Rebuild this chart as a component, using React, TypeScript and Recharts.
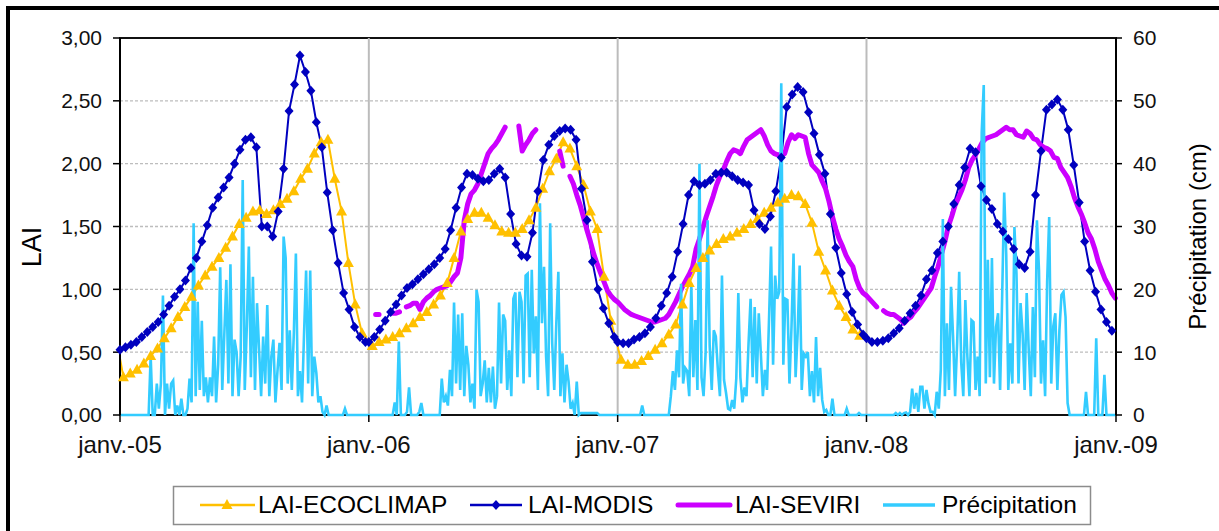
import React from 'react';
import { ComposedChart, Line, XAxis, YAxis, CartesianGrid } from 'recharts';

// ---------- axes ----------
const yearTickDays = [0, 365, 730, 1095, 1461];
const yearTickLabels = ['janv.-05', 'janv.-06', 'janv.-07', 'janv.-08', 'janv.-09'];
const yearStartDays = [0, 365, 730, 1095];
const laiTicks = [0, 0.5, 1, 1.5, 2, 2.5, 3];
const precipTicks = [0, 10, 20, 30, 40, 50, 60];
const laiGridValues = [0.5, 1, 1.5, 2, 2.5];
const yearGridDays = [365, 730, 1095];

// ---------- LAI-MODIS (8-day composites, 46 per year) ----------
const modis2005 = [0.52, 0.54, 0.56, 0.58, 0.62, 0.66, 0.70, 0.74, 0.80, 0.87, 0.94, 1.00, 1.07, 1.17, 1.25, 1.38, 1.51, 1.65, 1.73, 1.81, 1.89, 2.00, 2.11, 2.19, 2.21, 2.13, 1.50, 1.50, 1.42, 1.62, 1.96, 2.42, 2.63, 2.86, 2.73, 2.58, 2.33, 2.13, 1.77, 1.47, 1.21, 0.97, 0.84, 0.70, 0.62, 0.58];
const modis2006 = [0.58, 0.62, 0.68, 0.75, 0.82, 0.88, 0.95, 1.01, 1.04, 1.08, 1.12, 1.16, 1.20, 1.25, 1.32, 1.47, 1.65, 1.81, 1.92, 1.91, 1.88, 1.86, 1.87, 1.92, 1.96, 1.89, 1.60, 1.36, 1.27, 1.26, 1.45, 1.78, 2.03, 2.15, 2.22, 2.26, 2.28, 2.27, 2.19, 1.80, 1.55, 1.22, 1.00, 0.85, 0.73, 0.62];
const modis2007 = [0.58, 0.57, 0.57, 0.60, 0.62, 0.65, 0.70, 0.77, 0.87, 0.97, 1.10, 1.30, 1.52, 1.75, 1.86, 1.83, 1.84, 1.87, 1.92, 1.93, 1.93, 1.90, 1.87, 1.85, 1.83, 1.63, 1.52, 1.48, 1.58, 1.78, 2.05, 2.45, 2.55, 2.61, 2.57, 2.41, 2.24, 2.07, 1.92, 1.60, 1.33, 1.13, 0.96, 0.82, 0.72, 0.64];
const modis2008 = [0.61, 0.58, 0.58, 0.59, 0.61, 0.65, 0.69, 0.75, 0.81, 0.87, 0.95, 1.08, 1.15, 1.29, 1.38, 1.50, 1.68, 1.83, 1.97, 2.12, 2.09, 1.82, 1.71, 1.64, 1.52, 1.46, 1.40, 1.32, 1.20, 1.17, 1.30, 1.75, 2.10, 2.43, 2.47, 2.51, 2.43, 2.27, 1.99, 1.69, 1.38, 1.15, 0.98, 0.84, 0.74, 0.67];

// ---------- LAI-ECOCLIMAP (10-day, 36 per year) ----------
const ecoStartValue = 0.45;
const eco2005 = [0.30, 0.33, 0.36, 0.41, 0.47, 0.53, 0.61, 0.69, 0.78, 0.86, 0.94, 1.03, 1.11, 1.18, 1.25, 1.33, 1.42, 1.52, 1.57, 1.62, 1.63, 1.60, 1.63, 1.68, 1.72, 1.78, 1.88, 1.96, 2.08, 2.17, 2.19, 1.88, 1.62, 1.21, 0.88, 0.65];
const eco2006 = [0.55, 0.58, 0.60, 0.62, 0.65, 0.69, 0.73, 0.78, 0.82, 0.88, 0.95, 1.05, 1.25, 1.46, 1.56, 1.61, 1.61, 1.57, 1.51, 1.46, 1.45, 1.45, 1.48, 1.55, 1.65, 1.80, 1.94, 2.04, 2.17, 2.12, 1.98, 1.83, 1.62, 1.48, 1.10, 0.75];
const eco2007 = [0.44, 0.40, 0.40, 0.43, 0.47, 0.52, 0.57, 0.64, 0.72, 0.88, 1.05, 1.17, 1.25, 1.31, 1.36, 1.40, 1.42, 1.45, 1.48, 1.52, 1.56, 1.61, 1.65, 1.69, 1.72, 1.75, 1.74, 1.68, 1.53, 1.30, 1.15, 0.99, 0.87, 0.78, 0.68, 0.63];

// ---------- LAI-SEVIRI (5-day steps from 1 Jan 2006, null = no data) ----------
const seviriStartDay = 365;
const seviri2006 = [null, null, 0.80, 0.80, null, null, null, 0.81, 0.81, 0.82, null, 0.86, 0.87, 0.89, 0.89, 0.84, 0.90, 0.93, 0.95, 0.98, 1.00, 1.01, 1.02, 1.03, 1.06, 1.10, 1.13, 1.25, 1.55, 1.68, 1.76, 1.79, 1.84, 1.92, 2.00, 2.08, 2.12, 2.15, 2.19, 2.24, 2.29, null, null, null, 2.30, 2.10, 2.15, 2.19, 2.24, 2.27, null, null, null, null, null, null, 2.10, 1.98, null, 1.90, 1.84, 1.75, 1.67, 1.57, 1.47, 1.38, 1.28, 1.20, 1.13, 1.06, 0.99, 0.95, 0.92];
const seviri2007 = [0.90, 0.87, 0.84, 0.82, 0.80, 0.79, 0.78, 0.77, 0.76, 0.75, 0.74, 0.74, 0.75, 0.76, 0.77, 0.80, 0.85, 0.90, 0.96, 1.02, 1.07, 1.12, 1.18, 1.32, 1.40, 1.49, 1.58, 1.66, 1.74, 1.83, 1.90, 1.95, 2.02, 2.08, 2.11, 2.10, 2.08, 2.14, 2.19, 2.21, 2.23, 2.25, 2.27, 2.22, 2.15, 2.10, 2.08, 2.07, 2.07, 2.08, 2.17, 2.23, 2.20, 2.23, 2.22, 2.21, 2.08, 1.99, 1.96, 1.93, 1.86, 1.80, 1.70, 1.58, 1.48, 1.40, 1.34, 1.27, 1.22, 1.18, 1.08, 1.01, 0.97];
const seviri2008 = [0.95, 0.92, 0.89, 0.86, null, 0.83, 0.81, 0.80, 0.80, 0.78, 0.76, 0.73, 0.76, 0.78, 0.82, 0.85, 0.89, 0.93, 0.97, 1.01, 1.10, 1.18, 1.28, 1.38, 1.50, 1.58, 1.67, 1.73, 1.79, 1.87, 1.97, 2.03, 2.07, 2.12, 2.17, 2.20, 2.21, 2.22, 2.23, 2.25, 2.27, 2.29, 2.27, 2.27, 2.23, 2.22, 2.21, 2.26, 2.24, 2.20, 2.19, 2.15, 2.13, 2.12, 2.10, 2.05, 2.04, 1.97, 1.93, 1.89, 1.82, 1.73, 1.66, 1.60, 1.53, 1.45, 1.40, 1.32, 1.22, 1.15, 1.08, 1.03, 0.97, 0.93];

// ---------- Précipitation (cm), 3-day steps inside each rainy season, 0 elsewhere ----------
const precip2005Start = 42;
const precip2005 = [0, 9.3, 0, 0, 5, 1, 5, 19, 0, 5, 1, 5, 5.5, 0, 1.5, 0, 2.6, 0, 0, 1, 5.8, 2, 30.5, 3, 18, 4, 15, 3, 6, 2, 6, 3, 12.5, 2, 8, 23.5, 4, 12.8, 21.5, 5, 24, 3, 12, 10, 3, 9.3, 37.4, 4, 14, 26.8, 6, 22, 4, 17.8, 10.5, 3, 12.5, 5, 17.5, 3, 9.3, 12, 2, 7, 11.5, 4, 28.4, 25, 5, 13.5, 4, 13, 25.7, 3, 7, 2, 13, 23, 5, 23, 3, 9.3, 6.7, 2, 3, 0.5, 0, 1.5, 0, 0, 0, 0, 0, 0, 0, 0, 1, 0];
const precip2006Start = 400;
const precip2006 = [0, 2, 0, 11.7, 0, 0, 0, 0.5, 4.4, 0, 0, 0, 0, 0.5, 1.9, 0, 0, 0, 0, 0, 0, 0, 0, 0, 5.8, 2, 3, 1.5, 7.2, 3, 17.9, 5, 16, 4, 16.2, 3, 11, 8, 2, 5, 1, 19.9, 18, 3, 5, 8.7, 2, 7.5, 2, 7.7, 1, 3, 17.9, 5, 16, 15, 4, 10.3, 3, 18.5, 19.5, 6, 19.6, 18, 5, 22.2, 22.5, 6, 23.1, 9.8, 15.7, 4, 33.7, 14.6, 23.6, 9.3, 3, 30.5, 11.4, 4, 14.6, 22.8, 3, 9.8, 2, 8, 5.3, 1, 1.9, 0, 5.3, 0, 0.3, 0.3, 0.3, 0.3, 0.3, 0.3, 0.3, 0.3, 0.3, 0];
const precip2007Start = 760;
const precip2007 = [0, 0, 1.5, 0, 0, 0, 0, 0, 0, 0, 0, 0, 0, 0, 0, 0, 3, 7, 4, 10.3, 6, 20.9, 5, 7.5, 7, 3, 20.9, 6, 15.1, 4, 40, 6, 3, 9.8, 31, 11, 4, 13.5, 12.5, 7.2, 3, 22.2, 5.6, 3.5, 1, 0.8, 2.4, 1, 5.8, 19.4, 6, 2, 4.4, 3, 11.4, 18.5, 6, 17.2, 5, 16.2, 9.8, 3, 7.2, 4, 15.1, 26.8, 8, 22.2, 18.5, 19.6, 52.8, 8, 18.5, 18.3, 5, 14, 25.7, 6, 13, 23.8, 4, 9.8, 9.3, 10, 3, 7, 2, 12.4, 3, 7.5, 2.4, 0.5, 0.8, 0, 0, 2.6, 0, 0, 0, 0, 0, 0, 1, 0, 0, 0, 0, 0, 0.3, 0];
const precip2008Start = 1135;
const precip2008 = [0, 0.3, 0, 0.3, 0, 0.3, 0.4, 0, 0.5, 4.2, 1, 3.5, 0.5, 4.5, 4.5, 1, 4, 1.8, 0.5, 0.5, 0, 3.7, 1, 7.2, 31.2, 3, 14.6, 4, 20.4, 12.5, 3, 11.5, 22.8, 8.3, 3, 18.3, 9.3, 3, 15.1, 14.8, 4, 9.3, 3, 45, 52.5, 5, 24.7, 6, 25, 5, 14, 16.2, 4, 18.8, 35.4, 25.5, 4, 11.4, 5, 29.9, 22.5, 5, 17.8, 13, 4, 19.4, 10.3, 3, 17.2, 6, 31, 23.1, 5, 11.9, 3, 21.2, 31.5, 5, 14.1, 16.2, 4, 13.5, 19.1, 19.6, 15.6, 1.9, 0, 0, 0, 0, 0, 0, 0, 0, 3.7, 0, 0, 0, 0, 12.2, 0, 0, 0, 6.4, 0, 0];

// ---------- colours ----------
const ECO_COLOR = '#FFC000';
const MODIS_COLOR = '#0000BF';
const SEVIRI_COLOR = '#CC00FF';
const PRECIP_COLOR = '#33CCFF';
const FONT = '"Liberation Sans", Arial, Helvetica, sans-serif';

// ---------- build series tables ----------
const modisData = [modis2005, modis2006, modis2007, modis2008].flatMap((arr, y) =>
  arr.map((v, i) => ({ day: yearStartDays[y] + 8 * i, v }))
);
const ecoData = [
  { day: 0, v: ecoStartValue },
  ...[eco2005, eco2006, eco2007].flatMap((arr, y) =>
    arr.map((v, i) => ({ day: yearStartDays[y] + 5 + 10 * i, v }))
  ),
];
const seviriData = [...seviri2006, ...seviri2007, ...seviri2008].map((v, k) => ({
  day: seviriStartDay + 5 * k,
  v,
}));
const precipSeasons = [
  { start: precip2005Start, values: precip2005 },
  { start: precip2006Start, values: precip2006 },
  { start: precip2007Start, values: precip2007 },
  { start: precip2008Start, values: precip2008 },
];
const precipData = [
  { day: 0, v: 0 },
  ...precipSeasons.flatMap((s) => s.values.map((v, j) => ({ day: s.start + 3 * j, v }))),
  { day: 1461, v: 0 },
];

const TriangleDot = (props: any) => {
  const { cx, cy, index } = props;
  if (cx == null || cy == null || index === 0) return <g key={`tri-${index}`} />;
  return (
    <polygon
      key={`tri-${index}`}
      points={`${cx},${cy - 6} ${cx + 5.5},${cy + 4} ${cx - 5.5},${cy + 4}`}
      fill={ECO_COLOR}
    />
  );
};

const DiamondDot = (props: any) => {
  const { cx, cy, index } = props;
  if (cx == null || cy == null) return <g key={`dia-${index}`} />;
  return (
    <polygon
      key={`dia-${index}`}
      points={`${cx},${cy - 5} ${cx + 4.5},${cy} ${cx},${cy + 5} ${cx - 4.5},${cy}`}
      fill={MODIS_COLOR}
    />
  );
};

const fmtLai = (v: number) => v.toFixed(2).replace('.', ',');
const fmtYear = (v: number) => yearTickLabels[yearTickDays.indexOf(v)] ?? '';

const hGen = (p: any) => {
  const { yAxis, offset } = p;
  return laiGridValues.map((v) =>
    yAxis && typeof yAxis.scale === 'function'
      ? yAxis.scale(v)
      : offset.top + offset.height * (1 - v / 3)
  );
};
const vGen = (p: any) => {
  const { xAxis, offset } = p;
  return yearGridDays.map((d) =>
    xAxis && typeof xAxis.scale === 'function'
      ? xAxis.scale(d)
      : offset.left + (offset.width * d) / 1461
  );
};

export default function App() {
  return (
    <div
      style={{
        position: 'absolute',
        left: 0,
        top: 0,
        width: 1219,
        height: 531,
        overflow: 'hidden',
        background: '#fff',
        fontFamily: FONT,
      }}
    >
      <div
        style={{
          position: 'absolute',
          left: 6,
          top: 6,
          width: 1300,
          height: 600,
          border: '4px solid #000',
        }}
      />
      {/* plot-area frame, drawn underneath the series */}
      <svg width={1219} height={531} style={{ position: 'absolute', left: 0, top: 0 }}>
        <rect x={120} y={38} width={996} height={377} fill="none" stroke="#111" strokeWidth={2} />
      </svg>
      <div style={{ position: 'absolute', left: 0, top: 0 }}>
        <ComposedChart width={1219} height={531} margin={{ top: 38, right: 0, bottom: 86, left: 0 }}>
          <CartesianGrid
            yAxisId="left"
            vertical={false}
            horizontalCoordinatesGenerator={hGen}
            stroke="#bdbdbd"
            strokeDasharray="3 2"
            strokeWidth={1.3}
          />
          <CartesianGrid
            yAxisId="left"
            horizontal={false}
            verticalCoordinatesGenerator={vGen}
            stroke="#bcbcbc"
            strokeWidth={2}
          />
          <XAxis
            type="number"
            dataKey="day"
            domain={[0, 1461]}
            ticks={yearTickDays}
            interval={0}
            tickFormatter={fmtYear}
            height={30}
            tickSize={7}
            tickMargin={14}
            axisLine={false}
            tickLine={{ stroke: '#000', strokeWidth: 1.5 }}
            tick={{ fontSize: 24, fill: '#111', fontFamily: FONT }}
          />
          <YAxis
            yAxisId="left"
            width={120}
            domain={[0, 3]}
            ticks={laiTicks}
            interval={0}
            tickFormatter={fmtLai}
            tickSize={7}
            tickMargin={11}
            axisLine={{ stroke: '#000', strokeWidth: 2 }}
            tickLine={{ stroke: '#000', strokeWidth: 1.5 }}
            tick={{ fontSize: 21, fill: '#111', fontFamily: FONT }}
          />
          <YAxis
            yAxisId="right"
            orientation="right"
            width={103}
            domain={[0, 60]}
            ticks={precipTicks}
            interval={0}
            tickSize={6}
            tickMargin={11}
            axisLine={{ stroke: '#000', strokeWidth: 2 }}
            tickLine={{ stroke: '#000', strokeWidth: 1.5 }}
            tick={{ fontSize: 21, fill: '#111', fontFamily: FONT }}
          />
          <Line
            yAxisId="left"
            data={ecoData}
            dataKey="v"
            name="LAI-ECOCLIMAP"
            stroke={ECO_COLOR}
            strokeWidth={2}
            dot={TriangleDot}
            activeDot={false}
            isAnimationActive={false}
          />
          <Line
            yAxisId="left"
            data={modisData}
            dataKey="v"
            name="LAI-MODIS"
            stroke={MODIS_COLOR}
            strokeWidth={2}
            dot={DiamondDot}
            activeDot={false}
            isAnimationActive={false}
          />
          <Line
            yAxisId="left"
            data={seviriData}
            dataKey="v"
            name="LAI-SEVIRI"
            stroke={SEVIRI_COLOR}
            strokeWidth={5}
            strokeLinecap="round"
            strokeLinejoin="round"
            connectNulls={false}
            dot={false}
            activeDot={false}
            isAnimationActive={false}
          />
          <Line
            yAxisId="right"
            data={precipData}
            dataKey="v"
            name="Précipitation"
            stroke={PRECIP_COLOR}
            strokeWidth={2.6}
            dot={false}
            activeDot={false}
            isAnimationActive={false}
          />
        </ComposedChart>
      </div>
      <svg
        width={1219}
        height={531}
        style={{ position: 'absolute', left: 0, top: 0, pointerEvents: 'none' }}
        fontFamily={FONT}
      >
        <text
          transform="translate(32,247) rotate(-90)"
          textAnchor="middle"
          dominantBaseline="central"
          fontSize={27}
          fill="#000"
        >
          LAI
        </text>
        <text
          transform="translate(1197,236.5) rotate(-90)"
          textAnchor="middle"
          dominantBaseline="central"
          fontSize={24}
          fill="#000"
        >
          Précipitation (cm)
        </text>
        <rect x={173.5} y={486.5} width={917} height={38} fill="#fff" stroke="#8c8c8c" strokeWidth={1.5} />
        <line x1={200} x2={255} y1={505} y2={505} stroke={ECO_COLOR} strokeWidth={2.5} />
        <polygon points="227,499 232.5,509 221.5,509" fill={ECO_COLOR} />
        <text x={258} y={504} dominantBaseline="central" fontSize={24.5} fill="#000">
          LAI-ECOCLIMAP
        </text>
        <line x1={470} x2={522} y1={505} y2={505} stroke={MODIS_COLOR} strokeWidth={2.5} />
        <polygon points="496,500 500.5,505 496,510 491.5,505" fill={MODIS_COLOR} />
        <text x={528} y={504} dominantBaseline="central" fontSize={24.5} fill="#000">
          LAI-MODIS
        </text>
        <line x1={678} x2={730} y1={505} y2={505} stroke={SEVIRI_COLOR} strokeWidth={5} strokeLinecap="round" />
        <text x={735} y={504} dominantBaseline="central" fontSize={24.5} fill="#000">
          LAI-SEVIRI
        </text>
        <line x1={883} x2={935} y1={505} y2={505} stroke={PRECIP_COLOR} strokeWidth={3.5} />
        <text x={942} y={504} dominantBaseline="central" fontSize={24.5} fill="#000">
          Précipitation
        </text>
      </svg>
    </div>
  );
}
